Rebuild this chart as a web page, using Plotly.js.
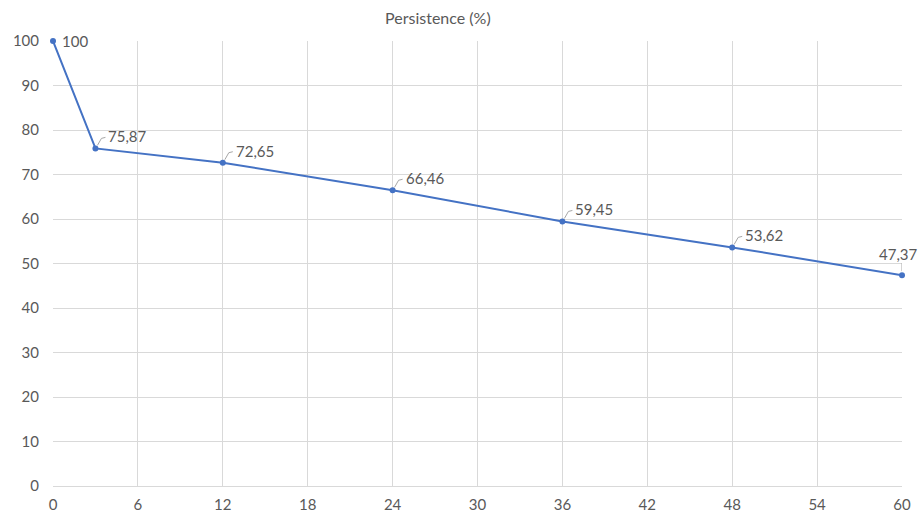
<!DOCTYPE html>
<html>
<head>
<meta charset="utf-8">
<script src="https://cdn.plot.ly/plotly-3.0.1.min.js"></script>
<style>html,body{margin:0;padding:0;background:#fff;}#chart{width:920px;height:514px;}</style>
</head>
<body>
<div id="chart"></div>
<script>
const months = [0, 3, 12, 24, 36, 48, 60];
const persistence = [100, 75.87, 72.65, 66.46, 59.45, 53.62, 47.37];
const xTicks = [0, 6, 12, 18, 24, 30, 36, 42, 48, 54, 60];
const yTicks = [0, 10, 20, 30, 40, 50, 60, 70, 80, 90, 100];

const fontFam = 'Lato, "Open Sans", "Liberation Sans", sans-serif';
const textColor = '#595959';

const annotations = [];
const shapes = [];
months.forEach((m, i) => {
  const label = String(persistence[i]).replace('.', ',');
  if (i === 0) {
    annotations.push({x: m, y: persistence[i], xref: 'x', yref: 'y', text: label, showarrow: false,
      xanchor: 'left', yanchor: 'middle', xshift: 7, yshift: 0,
      font: {family: fontFam, size: 15, color: textColor}});
  } else if (i === months.length - 1) {
    annotations.push({x: m, y: persistence[i], xref: 'x', yref: 'y', text: label, showarrow: false,
      xanchor: 'center', yanchor: 'bottom', xshift: -4, yshift: 10,
      font: {family: fontFam, size: 15, color: textColor}});
    shapes.push({type: 'path', xref: 'x', yref: 'y', xsizemode: 'pixel', ysizemode: 'pixel',
      xanchor: m, yanchor: persistence[i], path: 'M 0 4 L 0 12',
      line: {color: '#a6a6a6', width: 1}});
  } else {
    annotations.push({x: m, y: persistence[i], xref: 'x', yref: 'y', text: label, showarrow: false,
      xanchor: 'left', yanchor: 'middle', xshift: 11, yshift: 12,
      font: {family: fontFam, size: 15, color: textColor}});
    shapes.push({type: 'path', xref: 'x', yref: 'y', xsizemode: 'pixel', ysizemode: 'pixel',
      xanchor: m, yanchor: persistence[i], path: 'M 2 3 L 6 10 L 10 11',
      line: {color: '#a6a6a6', width: 1}});
  }
});

const trace = {
  x: months, y: persistence, type: 'scatter', mode: 'lines+markers',
  line: {color: '#4472C4', width: 2},
  marker: {color: '#4472C4', size: 6},
  hoverinfo: 'skip', cliponaxis: false
};

const layout = {
  width: 920, height: 514,
  margin: {l: 53, r: 18, t: 41, b: 28},
  paper_bgcolor: '#ffffff', plot_bgcolor: '#ffffff',
  showlegend: false,
  title: {text: 'Persistence (%)', x: 0.476, xanchor: 'center', y: 0.965, yanchor: 'middle',
    font: {family: fontFam, size: 16, color: textColor}},
  xaxis: {range: [0, 60], tickmode: 'array', tickvals: xTicks, ticktext: xTicks.map(String),
    showgrid: true, gridcolor: '#d9d9d9', gridwidth: 1, zeroline: false,
    showline: true, linecolor: '#d9d9d9', linewidth: 1, ticks: '',
    tickfont: {family: fontFam, size: 15, color: textColor}, ticklabelstandoff: 5},
  yaxis: {range: [0, 100], tickmode: 'array', tickvals: yTicks, ticktext: yTicks.map(String),
    showgrid: true, gridcolor: '#d9d9d9', gridwidth: 1, zeroline: false,
    showline: false, ticks: '',
    tickfont: {family: fontFam, size: 15, color: textColor}, ticklabelstandoff: 13},
  annotations: annotations,
  shapes: shapes
};

Plotly.newPlot('chart', [trace], layout, {displayModeBar: false, staticPlot: true});
</script>
</body>
</html>
